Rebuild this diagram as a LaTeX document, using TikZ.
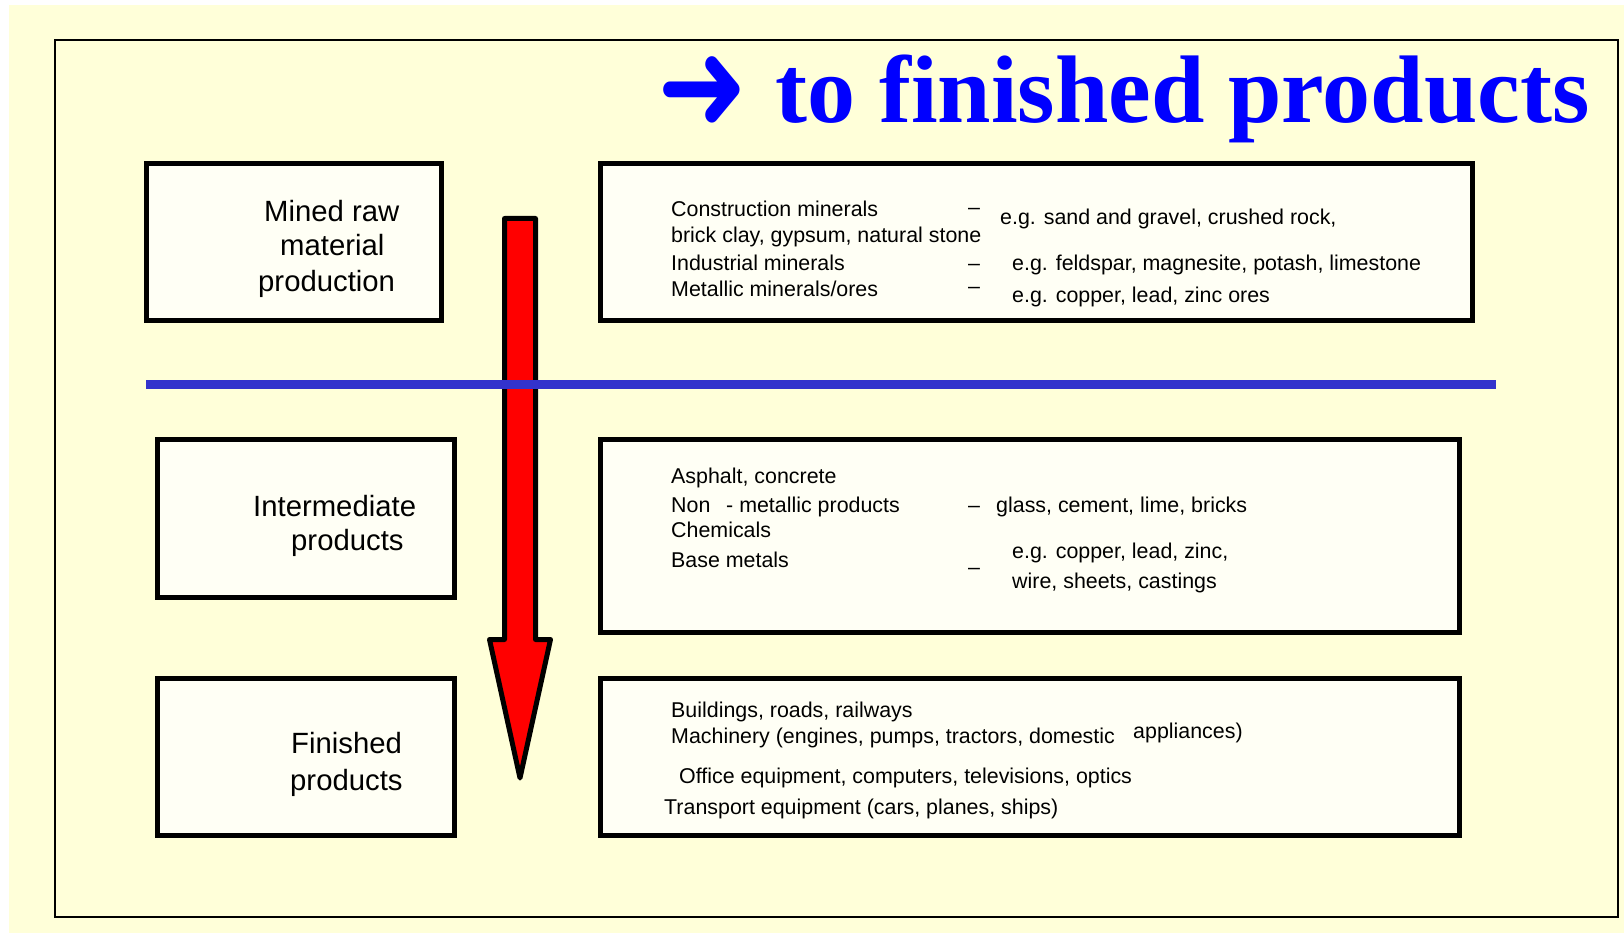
\documentclass[tikz,border=0pt]{standalone}
\usepackage{fontspec}
\setmainfont{Liberation Sans}
\newfontfamily\titlefont{Liberation Serif}
\newfontfamily\arrowfont{DejaVu Sans}
\definecolor{bgyellow}{RGB}{255,255,217}
\definecolor{boxfill}{RGB}{255,255,245}
\definecolor{lineblue}{RGB}{51,51,204}
\definecolor{titleblue}{RGB}{0,0,255}
\begin{document}
\begin{tikzpicture}[x=1pt,y=-1pt,
  panel/.style={draw=black, line width=5pt, fill=boxfill, inner sep=0pt},
  lbl/.style={anchor=base west, inner sep=0pt, font=\fontsize{29.3}{34}\selectfont},
  txt/.style={anchor=base west, inner sep=0pt, font=\fontsize{21.4}{25}\selectfont},
]
\useasboundingbox (0,0) rectangle (1624,933);
\fill[white] (0,0) rectangle (1624,933);
\fill[bgyellow] (9,5) rectangle (1624,933);
\draw[line width=2.5pt] (55,40) rectangle (1618,917);

% title
\node[anchor=center, inner sep=0pt, text=titleblue, yscale=1.2, font=\arrowfont\fontsize{108}{120}\selectfont] (tarrow) at (703,94) {➜};
\node[anchor=base west, inner sep=0pt, text=titleblue, font=\titlefont\bfseries\fontsize{96}{110}\selectfont] (title) at (775,123) {to finished products};

% boxes
\node[panel, minimum width=295pt, minimum height=156pt] (b1) at (293.5,242) {};
\node[panel, minimum width=872pt, minimum height=156pt] (b2) at (1036,242) {};
\node[panel, minimum width=297pt, minimum height=158pt] (b3) at (305.5,518) {};
\node[panel, minimum width=859pt, minimum height=193pt] (b4) at (1029.5,535.5) {};
\node[panel, minimum width=297pt, minimum height=157pt] (b5) at (305.5,756.5) {};
\node[panel, minimum width=859pt, minimum height=157pt] (b6) at (1029.5,756.5) {};

% red arrow
\draw[line width=5pt, fill=red, line join=round] (504.5,218.5) -- (535.5,218.5) -- (535.5,639.5) -- (550.5,639.5) -- (520,778) -- (489.5,639.5) -- (504.5,639.5) -- cycle;

% blue separator
\draw[lineblue, line width=9pt] (146,384) -- (1496,384);

% left labels
\node[lbl] (l1a) at (264,222) {Mined raw};
\node[lbl] (l1b) at (280,256) {material};
\node[lbl] (l1c) at (258,291) {production};
\node[lbl] (l2a) at (253,516) {Intermediate};
\node[lbl] (l2b) at (291,550) {products};
\node[lbl] (l3a) at (291,753) {Finished};
\node[lbl] (l3b) at (290,790) {products};

% top right text
\node[txt] (t1) at (671,217) {Construction minerals};
\node[txt] (t1d) at (968,215) {–};
\node[txt] (t1e) at (1000,225) {e.g. sand and gravel, crushed rock,};
\node[txt] (t2) at (671,243) {brick clay, gypsum, natural stone};
\node[txt] (t3) at (671,271) {Industrial minerals};
\node[txt] (t3d) at (968,270) {–};
\node[txt] (t3e) at (1012,270) {e.g. feldspar, magnesite, potash, limestone};
\node[txt] (t4) at (671,296) {Metallic minerals/ores};
\node[txt] (t4d) at (968,294) {–};
\node[txt] (t4e) at (1012,302) {e.g. copper, lead, zinc ores};

% middle right text
\node[txt] (m1) at (671,483) {Asphalt, concrete};
\node[txt] (m2) at (671,512) {Non};
\node[txt] (m2b) at (726,512) {- metallic products};
\node[txt] (m2d) at (968,512) {–};
\node[txt] (m2e) at (996,512) {glass, cement, lime, bricks};
\node[txt] (m3) at (671,537) {Chemicals};
\node[txt] (m4) at (671,567) {Base metals};
\node[txt] (m4d) at (968,574) {–};
\node[txt] (m4e) at (1012,558) {e.g. copper, lead, zinc,};
\node[txt] (m4f) at (1012,588) {wire, sheets, castings};

% bottom right text
\node[txt] (f1) at (671,717) {Buildings, roads, railways};
\node[txt] (f2) at (671,743) {Machinery (engines, pumps, tractors, domestic};
\node[txt] (f2b) at (1133,738) {appliances)};
\node[txt] (f3) at (679,783) {Office equipment, computers, televisions, optics};
\node[txt] (f4) at (664,814) {Transport equipment (cars, planes, ships)};
\end{tikzpicture}
\end{document}
